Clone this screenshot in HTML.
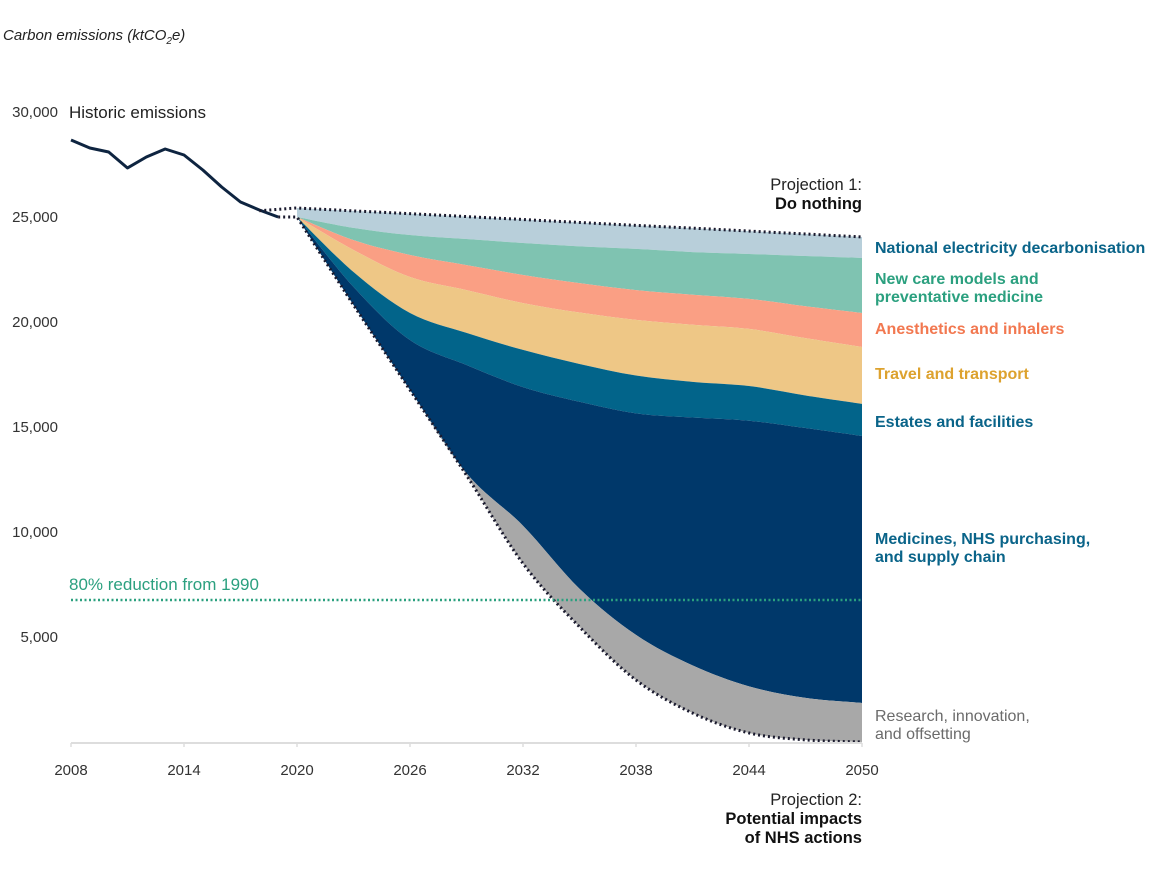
<!DOCTYPE html>
<html><head><meta charset="utf-8"><style>
body{margin:0;background:#fff;}
svg{display:block;font-family:"Liberation Sans",sans-serif;}
</style></head><body>
<svg id="chart" width="1160" height="873" viewBox="0 0 1160 873" xmlns="http://www.w3.org/2000/svg">
<text x="3" y="40" font-size="15" font-style="italic" fill="#222">Carbon emissions (ktCO<tspan font-size="10" dy="4">2</tspan><tspan dy="-4">e)</tspan></text>
<g id="bands"></g>
<g id="lines"></g>
<g id="axes"></g>
<text x="69" y="118" font-size="17" fill="#222">Historic emissions</text>
<text x="69" y="590" font-size="17" fill="#2BA07F">80% reduction from 1990</text>
<text x="862" y="190" font-size="16.5" fill="#222" text-anchor="end">Projection 1:</text>
<text x="862" y="209" font-size="16.5" font-weight="bold" fill="#111" text-anchor="end">Do nothing</text>
<text x="862" y="805" font-size="16.5" fill="#222" text-anchor="end">Projection 2:</text>
<text x="862" y="824" font-size="16.5" font-weight="bold" fill="#111" text-anchor="end">Potential impacts</text>
<text x="862" y="843" font-size="16.5" font-weight="bold" fill="#111" text-anchor="end">of NHS actions</text>
<g font-size="16" font-weight="bold">
<text x="875" y="253" fill="#0A6489">National electricity decarbonisation</text>
<text x="875" y="284" fill="#2BA07F">New care models and</text>
<text x="875" y="302" fill="#2BA07F">preventative medicine</text>
<text x="875" y="334" fill="#F27850">Anesthetics and inhalers</text>
<text x="875" y="379" fill="#DDA22E">Travel and transport</text>
<text x="875" y="427" fill="#0A6489">Estates and facilities</text>
<text x="875" y="544" fill="#0A6489">Medicines, NHS purchasing,</text>
<text x="875" y="562" fill="#0A6489">and supply chain</text>
</g>
<text x="875" y="721" font-size="16" fill="#6b6b6b">Research, innovation,</text>
<text x="875" y="739" font-size="16" fill="#6b6b6b">and offsetting</text>
</svg>
<script>
const histYears=[2008,2009,2010,2011,2012,2013,2014,2015,2016,2017,2018,2019];
const histValues=[28667,28286,28095,27333,27857,28238,27952,27238,26429,25714,25333,25000];
const projYears=[2020,2023,2026,2029,2032,2035,2038,2041,2044,2047,2050];
const doNothing=[25430,25290,25160,25020,24880,24740,24600,24470,24330,24190,24050];
const electricityLower=[25000,24480,24140,23950,23760,23600,23480,23330,23240,23140,23050];
const newCareLower=[25000,23900,23190,22710,22240,21850,21520,21300,21100,20750,20430];
const anestheticsLower=[25000,23430,22140,21520,20900,20450,20100,19870,19670,19230,18810];
const travelLower=[25000,22380,20430,19480,18670,18000,17450,17150,16950,16500,16100];
const estatesLower=[25000,21670,19140,17950,16900,16200,15650,15450,15300,14950,14570];
const medicinesLower=[25000,20810,16760,12800,10300,7300,5100,3650,2650,2100,1860];
const nhsActions=[25000,20810,16760,12700,8500,5480,2950,1380,430,100,0];
const targetValue=6760;
const yTicks=[5000,10000,15000,20000,25000,30000];
const xTicks=[2008,2014,2020,2026,2032,2038,2044,2050];

const X=y=>71+(y-2008)*(791/42);
const Y=v=>742-v*0.021;
const NS="http://www.w3.org/2000/svg";
function mk(tag,attrs,parent){const e=document.createElementNS(NS,tag);for(const k in attrs)e.setAttribute(k,attrs[k]);parent.appendChild(e);return e;}
function pts(xs,vs){return xs.map((x,i)=>[X(x),Y(vs[i])]);}
function smooth(p,move){let d=move?`M${p[0][0]},${p[0][1]}`:`L${p[0][0]},${p[0][1]}`;
 for(let i=0;i<p.length-1;i++){const p0=p[i-1]||p[i],p1=p[i],p2=p[i+1],p3=p[i+2]||p2;
  const c1=[p1[0]+(p2[0]-p0[0])/6,p1[1]+(p2[1]-p0[1])/6],c2=[p2[0]-(p3[0]-p1[0])/6,p2[1]-(p3[1]-p1[1])/6];
  d+=`C${c1[0]},${c1[1]} ${c2[0]},${c2[1]} ${p2[0]},${p2[1]}`;}return d;}
const bands=document.getElementById('bands');
const bounds=[doNothing,electricityLower,newCareLower,anestheticsLower,travelLower,estatesLower,medicinesLower,nhsActions];
const colors=['#B8CFDA','#7FC3B1','#FA9F84','#EEC786','#02648A','#00386A','#A8A8A8'];
const names=['band-electricity','band-new-care','band-anesthetics','band-travel','band-estates','band-medicines','band-research'];
for(let i=0;i<7;i++){
 const top=pts(projYears,bounds[i]),bot=pts(projYears,bounds[i+1]).reverse();
 const p=mk('path',{d:smooth(top,true)+smooth(bot,false)+'Z',fill:colors[i]},bands);
 
 
}
const lines=document.getElementById('lines');
const hist=mk('polyline',{points:pts(histYears,histValues).map(p=>p.join(',')).join(' '),fill:'none',stroke:'#0E2440','stroke-width':3,'stroke-linejoin':'round'},lines);


const p1=mk('path',{d:`M${X(2018)},${Y(25300)}`+smooth(pts(projYears,doNothing),false),fill:'none',stroke:'#1a1a2e','stroke-width':3,'stroke-dasharray':'2 3'},lines);


const p2=mk('path',{d:`M${X(2019)},${Y(25000)}`+smooth(pts(projYears,nhsActions),false),fill:'none',stroke:'#1a1a2e','stroke-width':3,'stroke-dasharray':'2 3'},lines);


const tl=mk('line',{x1:X(2008),x2:X(2050),y1:Y(targetValue),y2:Y(targetValue),stroke:'#2BA07F','stroke-width':2.5,'stroke-dasharray':'2 2.5'},lines);


const axes=document.getElementById('axes');
const ax=mk('line',{x1:X(2008),x2:X(2050),y1:743,y2:743,stroke:'#ddd','stroke-width':2},axes);


xTicks.forEach(t=>{
 const tk=mk('line',{x1:X(t),x2:X(t),y1:743,y2:747,stroke:'#ddd','stroke-width':1.5},axes);
 
 
 const tx=mk('text',{x:X(t),y:775,'font-size':15,fill:'#333','text-anchor':'middle'},axes);
 tx.textContent=t;
 
 
});
yTicks.forEach(t=>{
 const tx=mk('text',{x:58,y:Y(t)+5,'font-size':15,fill:'#333','text-anchor':'end'},axes);
 tx.textContent=t.toLocaleString('en-US');
 
 
});
</script>
</body></html>
